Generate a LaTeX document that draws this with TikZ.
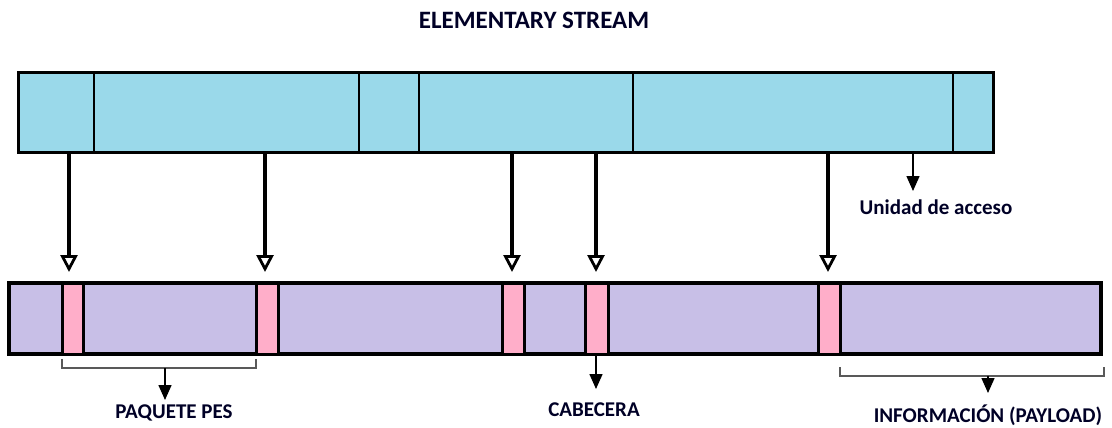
\documentclass[tikz,border=0pt]{standalone}
\usepackage{fontspec}
\setmainfont{Carlito}
\usetikzlibrary{arrows.meta}
\definecolor{esblue}{RGB}{154,217,234}
\definecolor{peslav}{RGB}{200,191,231}
\definecolor{pespink}{RGB}{255,174,201}
\tikzset{
  seg/.style={draw=black, line width=2.2pt, fill=esblue, anchor=north west, inner sep=0pt, outer sep=0pt, minimum height=79pt},
  pesbar/.style={draw=black, line width=3.5pt, fill=peslav, anchor=north west, inner sep=0pt, outer sep=0pt, minimum height=71pt, minimum width=1092pt},
  hdr/.style={draw=black, line width=3pt, fill=pespink, anchor=north west, inner sep=0pt, outer sep=0pt, minimum height=71pt},
  bigarrow/.style={line width=3.2pt, -{Triangle[open, length=17pt, width=17pt, line width=2.8pt]}},
  smallarrow/.style={line width=1.5pt, -{Triangle[length=15pt, width=13pt]}},
  brk/.style={line width=1.3pt, draw=black!65},
  lbl/.style={font=\fontsize{21}{21}\selectfont\bfseries, inner sep=0pt, text=black!85!blue},
}
\begin{document}
\begin{tikzpicture}[x=1pt,y=-1pt]
\useasboundingbox (0,0) rectangle (1112,428);
\node[lbl, font=\fontsize{25}{25}\selectfont\bfseries] (title) at (534,20) {ELEMENTARY STREAM};
% elementary stream
\node[seg, minimum width=76pt] (t1) at (18,73) {};
\node[seg, minimum width=265pt] (t2) at (94,73) {};
\node[seg, minimum width=60pt] (t3) at (359,73) {};
\node[seg, minimum width=214pt] (t4) at (419,73) {};
\node[seg, minimum width=320pt] (t5) at (633,73) {};
\node[seg, minimum width=40pt] (t6) at (953,73) {};
\node[draw=black, line width=3pt, inner sep=0pt, outer sep=0pt, anchor=north west, minimum width=975pt, minimum height=79pt] (es) at (18,73) {};
% PES
\node[pesbar] (pes) at (9,283) {};
\node[hdr, minimum width=21pt] (h1) at (62,283) {};
\node[hdr, minimum width=22pt] (h2) at (256,283) {};
\node[hdr, minimum width=22pt] (h3) at (502,283) {};
\node[hdr, minimum width=23pt] (h4) at (585,283) {};
\node[hdr, minimum width=22pt] (h5) at (818,283) {};
% mapping arrows
\coordinate (a1) at (69,272);
\coordinate (a2) at (265,272);
\coordinate (a3) at (512,272);
\coordinate (a4) at (596,272);
\coordinate (a5) at (828,272);
\foreach \i in {1,...,5} \draw[bigarrow] (a\i |- es.south) -- (a\i);
% unidad de acceso
\coordinate (ua) at (913,191);
\draw[smallarrow] (ua |- es.south) -- (ua);
\node[lbl] (ualbl) at (936,207) {Unidad de acceso};
% paquete PES
\draw[brk] (h1.south west) ++(0,5) coordinate (b1s) -- ++(0,9) coordinate (b1l) -| ([yshift=-5pt]h2.south west);
\coordinate (pa) at (165,400);
\draw[smallarrow] (pa |- b1l) -- (pa);
\node[lbl] (paq) at (174,413) {PAQUETE PES};
% cabecera
\coordinate (ca) at (596,389);
\draw[smallarrow] (ca |- pes.south) -- (ca);
\node[lbl] (cab) at (594,410) {CABECERA};
% informacion
\draw[brk] (h5.south east |- 0,367) -- ++(0,9) coordinate (b2l) -- (1104,376) -- (1104,367);
\coordinate (ia) at (988,393);
\draw[smallarrow] (ia |- b2l) -- (ia);
\node[lbl] (info) at (988,415) {INFORMACIÓN (PAYLOAD)};
\end{tikzpicture}
\end{document}
